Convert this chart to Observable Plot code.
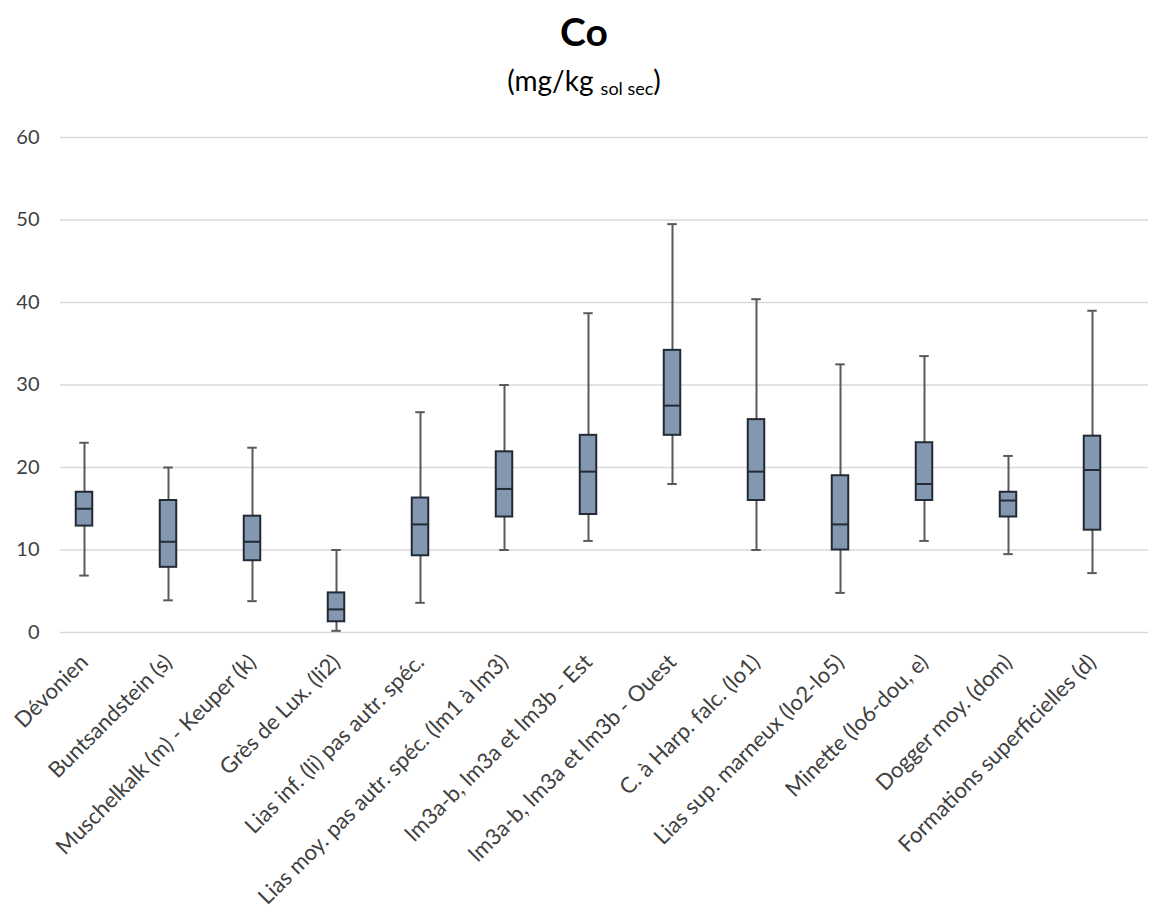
<!DOCTYPE html>
<html>
<head>
<meta charset="utf-8">
<script src="https://cdn.jsdelivr.net/npm/d3@7"></script>
<script src="https://cdn.jsdelivr.net/npm/@observablehq/plot@0.6"></script>
<style>
  html, body { margin: 0; padding: 0; background: #fff; }
  body { font-family: Lato, "Open Sans", sans-serif; }
  #wrap { position: relative; width: 1151px; height: 914px; }
  #title { position: absolute; left: 0; width: 1168px; top: 8px; text-align: center;
           font-size: 39px; line-height: 1.2; font-weight: 700; color: #000; }
  #subtitle { position: absolute; left: 0; width: 1168px; top: 64px; text-align: center;
              font-size: 28px; line-height: 1.2; color: #000; }
  #subtitle sub { font-size: 18px; vertical-align: -4px; }
  #chart { position: absolute; left: 0; top: 100px; }
</style>
</head>
<body>
<div id="wrap">
  <div id="title">Co</div>
  <div id="subtitle">(mg/kg <sub>sol sec</sub>)</div>
  <div id="chart"></div>
</div>
<script>
const categories = [
  "Dévonien",
  "Buntsandstein (s)",
  "Muschelkalk (m) - Keuper (k)",
  "Grès de Lux. (li2)",
  "Lias inf. (li) pas autr. spéc.",
  "Lias moy. pas autr. spéc. (lm1 à lm3)",
  "lm3a-b, lm3a et lm3b - Est",
  "lm3a-b, lm3a et lm3b - Ouest",
  "C. à Harp. falc. (lo1)",
  "Lias sup. marneux (lo2-lo5)",
  "Minette (lo6-dou, e)",
  "Dogger moy. (dom)",
  "Formations superficielles (d)"
];
const mins    = [6.9, 3.9, 3.8, 0.2, 3.6, 10.0, 11.1, 18.0, 10.0, 4.8, 11.1, 9.5, 7.2];
const q1s     = [12.9, 7.9, 8.7, 1.3, 9.3, 14.0, 14.3, 23.9, 16.0, 10.0, 16.0, 14.0, 12.4];
const medians = [15.0, 11.0, 11.0, 2.8, 13.1, 17.4, 19.5, 27.5, 19.5, 13.1, 18.0, 16.0, 19.7];
const q3s     = [17.0, 16.0, 14.1, 4.8, 16.3, 21.9, 23.9, 34.2, 25.8, 19.0, 23.0, 17.0, 23.8];
const maxs    = [23.0, 20.0, 22.4, 10.0, 26.7, 30.0, 38.7, 49.5, 40.4, 32.5, 33.5, 21.4, 39.0];
const yTicks  = [0, 10, 20, 30, 40, 50, 60];

const rows = categories.map((c, i) => ({
  cat: c, min: mins[i], q1: q1s[i], median: medians[i], q3: q3s[i], max: maxs[i]
}));

const bandW = (1137 - 38.5) / categories.length;
const boxInset = (bandW - 17) / 2;
const capInset = (bandW - 10) / 2;

const chart = Plot.plot({
  width: 1151,
  height: 814,
  marginTop: 37,
  marginBottom: 282,
  marginLeft: 60,
  marginRight: 3,
  style: { fontFamily: "Lato, 'Open Sans', sans-serif", fontSize: "20px", color: "#404040", background: "transparent" },
  x: { type: "band", domain: categories, range: [38.5, 1137], padding: 0 },
  y: { domain: [0, 60] },
  marks: [
    Plot.ruleY(yTicks, { stroke: "#d9d9d9", strokeWidth: 1.5 }),
    Plot.axisY({ ticks: yTicks, tickSize: 0, tickPadding: 21, fontSize: 20, label: null }),
    Plot.axisX({ tickRotate: -45, tickSize: 0, tickPadding: 26, fontSize: 22, label: null }),
    Plot.ruleX(rows, { x: "cat", y1: "min", y2: "max", stroke: "#595959", strokeWidth: 2 }),
    Plot.tickY(rows, { x: "cat", y: "max", stroke: "#595959", strokeWidth: 2, insetLeft: capInset, insetRight: capInset }),
    Plot.tickY(rows, { x: "cat", y: "min", stroke: "#595959", strokeWidth: 2, insetLeft: capInset, insetRight: capInset }),
    Plot.barY(rows, { x: "cat", y1: "q1", y2: "q3", fill: "#8497B0", stroke: "#222A35", strokeWidth: 2, insetLeft: boxInset, insetRight: boxInset }),
    Plot.tickY(rows, { x: "cat", y: "median", stroke: "#222A35", strokeWidth: 2, insetLeft: boxInset, insetRight: boxInset })
  ]
});
document.getElementById("chart").appendChild(chart);
</script>
</body>
</html>
